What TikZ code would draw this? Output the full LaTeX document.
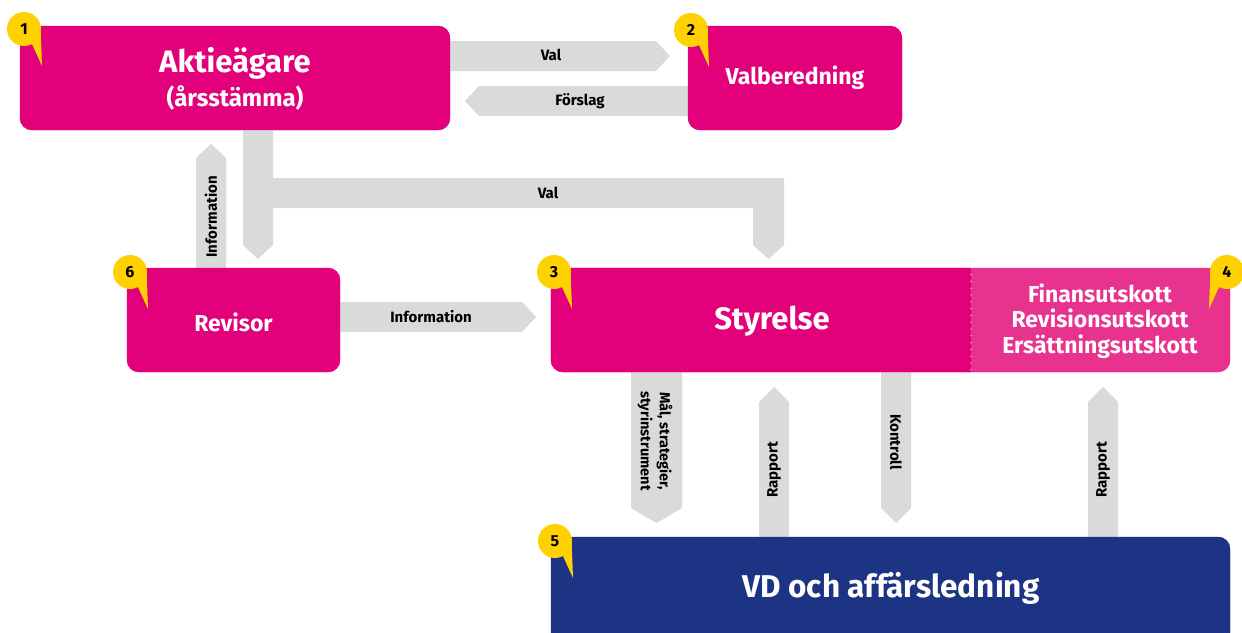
\documentclass[tikz,border=0pt]{standalone}
\usepackage{fontspec}
\setmainfont{Fira Sans}
\definecolor{mag}{HTML}{E3007B}
\definecolor{lpink}{HTML}{E8338E}
\definecolor{navy}{HTML}{1C3483}
\definecolor{band}{HTML}{D9DADA}
\definecolor{badgeY}{HTML}{FFD100}
\newcommand\fsz[1]{\fontsize{#1}{#1}\selectfont}
\newcommand\mybadge[4]{%
  \begin{scope}[shift={(#1,#2)}, xscale=#4]
    \fill[badgeY] (0,0) circle[radius=17pt];
    \fill[badgeY] (16.5,-3) -- (8,15) -- (18,37) -- cycle;
  \end{scope}
  \node[numlab] (badge#3) at (#1,#2) {#3};
}
\begin{document}
\begin{tikzpicture}[x=1pt,y=-1pt,
  box/.style={rounded corners=12pt, inner sep=0pt, text=white, align=center},
  boxtext/.style={text=white, font=\bfseries\fsz{23}, align=center, inner sep=0pt},
  arrlab/.style={font=\bfseries\fsz{15}, text=black, inner sep=0pt, align=center},
  numlab/.style={font=\bfseries\fsz{16}, text=black, inner sep=0pt},
  fat/.style={fill=band}]
\clip (0,0) rectangle (1242,632);
\fill[white] (0,0) rectangle (1242,632);

% ---------- boxes ----------
\node[box, fill=mag, minimum width=430pt, minimum height=104pt] (aktie) at (235,78) {};
\node[box, fill=mag, minimum width=214pt, minimum height=104pt] (valb) at (795,78) {};
\node[box, fill=mag, minimum width=213pt, minimum height=104pt] (revisor) at (233.5,320) {};
\node[box, fill=lpink, minimum width=679pt, minimum height=104pt] (board) at (890.5,320) {};
\node[box, fill=navy, minimum width=679pt, minimum height=120pt] (vd) at (890.5,597) {};

% ---------- fat arrows ----------
% Val (Aktieägare -> Valberedning)
\fill[fat] (aktie.east |- 0,41) -- (656,41) -- (670,56) -- (656,71) -- (aktie.east |- 0,71) -- cycle;
% Förslag (Valberedning -> Aktieägare)
\fill[fat] (valb.west |- 0,86) -- (479,86) -- (465,101) -- (479,116) -- (valb.west |- 0,116) -- cycle;
% Information (Revisor -> Aktieägare)
\fill[fat] (196,0 |- revisor.north) -- (196,158) -- (211,144) -- (226,158) -- (226,0 |- revisor.north) -- cycle;
% Val (Aktieägare -> Revisor, Styrelse)
\fill[fat] (243,0 |- aktie.south) -- (273,0 |- aktie.south) -- (273,178) -- (784,178) -- (784,245) -- (768.5,259) -- (753,245) -- (753,208) -- (273,208) -- (273,245) -- (258,259) -- (243,245) -- cycle;
% Information (Revisor -> Styrelse)
\fill[fat] (revisor.east |- 0,302) -- (522,302) -- (536,317) -- (522,332) -- (revisor.east |- 0,332) -- cycle;
% Mål (Styrelse -> VD)
\fill[fat] (631,0 |- board.south) -- (682,0 |- board.south) -- (682,508) -- (656.5,523) -- (631,508) -- cycle;
% Rapport (VD -> Styrelse)
\fill[fat] (759,0 |- vd.north) -- (759,402) -- (774,387) -- (789,402) -- (789,0 |- vd.north) -- cycle;
% Kontroll (Styrelse -> VD)
\fill[fat] (881,0 |- board.south) -- (911,0 |- board.south) -- (911,508) -- (896,523) -- (881,508) -- cycle;
% Rapport (VD -> utskott)
\fill[fat] (1088,0 |- vd.north) -- (1088,402) -- (1103,387) -- (1118,402) -- (1118,0 |- vd.north) -- cycle;

% redraw boxes on top of arrow stubs
\fill[mag, rounded corners=12pt] (aktie.north west) rectangle (aktie.south east);
\fill[mag, rounded corners=12pt] (valb.north west) rectangle (valb.south east);
\fill[mag, rounded corners=12pt] (revisor.north west) rectangle (revisor.south east);
\fill[lpink, rounded corners=12pt] (board.north west) rectangle (board.south east);
\begin{scope}
  \clip (540,250) rectangle (971,390);
  \fill[mag, rounded corners=12pt] (board.north west) rectangle (board.south east);
\end{scope}
\draw[white, line width=1.3pt, line cap=round, dash pattern=on 0pt off 6.8pt] (971,0 |- board.north) -- (971,0 |- board.south);
\fill[navy, rounded corners=12pt] (vd.north west) rectangle (vd.south east);

% ---------- box texts ----------
\node[boxtext, font=\bfseries\fsz{31}] (aktietxt) at (235,63) {Aktieägare};
\node[boxtext, font=\bfseries\fsz{24}] (aktiesub) at (235,98) {(årsstämma)};
\node[boxtext] (valbtxt) at (795,78) {Valberedning};
\node[boxtext] (revtxt) at (233.5,322) {Revisor};
\node[boxtext, font=\bfseries\fsz{31}] (styrtxt) at (772,321) {Styrelse};
\node[boxtext, font=\bfseries\fontsize{23}{25.5}\selectfont] (utsktxt) at (1100,321) {Finansutskott\\Revisionsutskott\\Ersättningsutskott};
\node[boxtext, font=\bfseries\fsz{31.5}] (vdtxt) at (891,588) {VD och affärsledning};

% ---------- arrow labels ----------
\node[arrlab] (l1) at (551,55) {Val};
\node[arrlab] (l2) at (580,101) {Förslag};
\node[arrlab, rotate=90] (l3) at (211,217) {Information};
\node[arrlab] (l4) at (548,193) {Val};
\node[arrlab] (l5) at (431,317) {Information};
\node[arrlab, rotate=-90, font=\bfseries\fontsize{14.5}{19}\selectfont] (l6) at (655,441) {Mål, strategier,\\styrinstrument};
\node[arrlab, rotate=90] (l7) at (774,470) {Rapport};
\node[arrlab, rotate=-90] (l8) at (896,442) {Kontroll};
\node[arrlab, rotate=90] (l9) at (1103,470) {Rapport};

% ---------- badges ----------
\mybadge{24}{29}{1}{1}
\mybadge{691}{30}{2}{1}
\mybadge{554}{272}{3}{1}
\mybadge{1227}{272}{4}{-1}
\mybadge{555}{541}{5}{1}
\mybadge{130}{272}{6}{1}
\end{tikzpicture}
\end{document}
